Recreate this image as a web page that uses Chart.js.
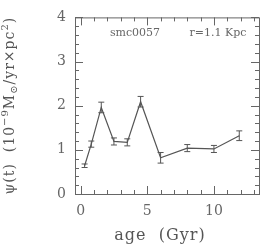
<!DOCTYPE html>
<html>
<head>
<meta charset="utf-8">
<script src="https://cdn.jsdelivr.net/npm/chart.js@4"></script>
<style>
  html, body { margin: 0; padding: 0; background: #fff; }
  #wrap { width: 273px; height: 245px; }
</style>
</head>
<body>
<div id="wrap"><canvas id="sfh" width="273" height="245"></canvas></div>
<script>
// star formation history
const ages = [0.3, 0.8, 1.55, 2.5, 3.5, 4.5, 6.0, 8.0, 10.0, 11.9];
const sfr = [0.64, 1.13, 1.96, 1.19, 1.17, 2.09, 0.82, 1.04, 1.02, 1.32];
const sfrErr = [0.04, 0.07, 0.12, 0.08, 0.08, 0.12, 0.12, 0.08, 0.08, 0.11];
const xTicks = [0, 5, 10];
const yTicks = [0, 1, 2, 3, 4];
const galaxy = 'smc0057';
const radius = 'r=1.1 Kpc';

const ink = '#555';
const serif = "'DejaVu Serif', serif";

// error bars, box, inward ticks, labels
const framePlugin = {
  id: 'frame',
  afterDatasetsDraw(chart) {
    const ctx = chart.ctx;
    const xs = chart.scales.x, ys = chart.scales.y;
    const a = chart.chartArea;
    ctx.save();
    ctx.strokeStyle = ink;
    ctx.lineWidth = 1;

    // error bars
    for (let i = 0; i < ages.length; i++) {
      const px = xs.getPixelForValue(ages[i]);
      const top = ys.getPixelForValue(sfr[i] + sfrErr[i]);
      const bot = ys.getPixelForValue(sfr[i] - sfrErr[i]);
      ctx.beginPath();
      ctx.moveTo(px, top); ctx.lineTo(px, bot);
      ctx.moveTo(px - 3, top); ctx.lineTo(px + 3, top);
      ctx.moveTo(px - 3, bot); ctx.lineTo(px + 3, bot);
      ctx.stroke();
    }

    // box
    ctx.strokeStyle = '#666';
    ctx.strokeRect(a.left + 0.5, a.top + 0.5, a.right - a.left, a.bottom - a.top);

    // x ticks, bottom and top
    ctx.beginPath();
    for (let v = 0; v <= 13; v++) {
      const px = Math.round(xs.getPixelForValue(v)) + 0.5;
      const len = v % 5 === 0 ? 8 : 4;
      ctx.moveTo(px, a.bottom); ctx.lineTo(px, a.bottom - len);
      ctx.moveTo(px, a.top); ctx.lineTo(px, a.top + len);
    }
    // y ticks, left and right
    for (let k = 0; k <= 20; k++) {
      const py = Math.round(ys.getPixelForValue(k * 0.2)) + 0.5;
      const len = k % 5 === 0 ? 8 : 4;
      ctx.moveTo(a.left, py); ctx.lineTo(a.left + len, py);
      ctx.moveTo(a.right, py); ctx.lineTo(a.right - len, py);
    }
    ctx.stroke();

    // labels inside the plot
    ctx.fillStyle = '#666';
    ctx.font = '11px ' + serif;
    ctx.textAlign = 'center';
    ctx.textBaseline = 'middle';
    ctx.fillText(galaxy, 135, 33);
    ctx.fillText(radius, 218, 33);

    // x title
    ctx.fillStyle = '#555';
    ctx.font = '16px ' + serif;
    ctx.letterSpacing = '1px';
    ctx.fillText('age  (Gyr)', 160, 236);

    // y title with super/subscripts
    const parts = [
      ['ψ(t)  (10', 0], ['−9', 1], ['M', 0], ['⊙', -1],
      ['/yr×pc', 0], ['2', 1], [')', 0]
    ];
    const big = '14px ' + serif, small = '10px ' + serif;
    let total = 0;
    for (const [t, s] of parts) {
      ctx.font = s ? small : big;
      total += ctx.measureText(t).width;
    }
    ctx.translate(10, (a.top + a.bottom) / 2);
    ctx.rotate(-Math.PI / 2);
    ctx.textAlign = 'left';
    let x = -total / 2;
    for (const [t, s] of parts) {
      ctx.font = s ? small : big;
      ctx.fillText(t, x, s === 1 ? -5 : (s === -1 ? 4 : 0));
      x += ctx.measureText(t).width;
    }
    ctx.restore();
  }
};

new Chart(document.getElementById('sfh'), {
  type: 'line',
  data: {
    datasets: [{
      data: ages.map((a, i) => ({ x: a, y: sfr[i] })),
      borderColor: ink,
      borderWidth: 1.2,
      pointRadius: 0,
      tension: 0,
      fill: false
    }]
  },
  options: {
    responsive: false,
    animation: false,
    devicePixelRatio: 1,
    layout: { padding: { top: 13, right: 14, left: 0, bottom: 0 } },
    plugins: { legend: { display: false }, tooltip: { enabled: false } },
    scales: {
      x: {
        type: 'linear',
        min: -0.42,
        max: 13.38,
        afterBuildTicks: s => { s.ticks = xTicks.map(v => ({ value: v })); },
        afterFit: s => { s.height = 51; },
        grid: { display: false, drawTicks: false },
        border: { display: false },
        ticks: { color: '#666', padding: 9, font: { family: serif, size: 14 } }
      },
      y: {
        min: 0,
        max: 4,
        afterBuildTicks: s => { s.ticks = yTicks.map(v => ({ value: v })); },
        afterFit: s => { s.width = 75; },
        grid: { display: false, drawTicks: false },
        border: { display: false },
        ticks: { color: '#666', padding: 9, font: { family: serif, size: 14 } }
      }
    }
  },
  plugins: [framePlugin]
});
</script>
</body>
</html>
